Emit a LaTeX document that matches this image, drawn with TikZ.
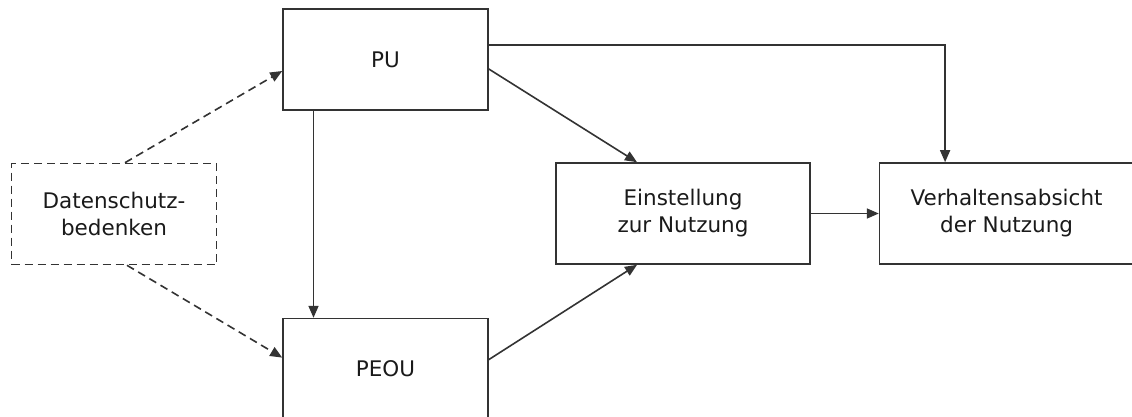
\documentclass[tikz,border=0pt]{standalone}
\usepackage{fontspec}
\setmainfont{DejaVu Sans}
\usetikzlibrary{positioning,arrows.meta}
\definecolor{linegray}{HTML}{333333}
\definecolor{textgray}{HTML}{1A1A1A}

\begin{document}
\begin{tikzpicture}[x=1pt,y=-1pt,>={Triangle[length=12pt,width=10pt]},
    box/.style={draw=linegray,line width=1.6pt,rectangle,align=center,text=textgray,minimum width=205pt,minimum height=101pt,inner sep=0pt,font=\fontsize{21.5}{27}\selectfont},
    wide box/.style={box,minimum width=254pt},
    dashed box/.style={box,dash pattern=on 8pt off 5pt},
    conn/.style={draw=linegray,line width=1.6pt,->},
    dashed conn/.style={conn,dash pattern=on 8pt off 5pt}]
            \useasboundingbox (0,0) rectangle (1132,416);

            \node[box] (pu) at (385.5,59.5) {PU};

            \node[box] (peou) [below=207pt of pu] {PEOU};

            \node[dashed box] (daten) at (114,214) {Datenschutz-\\bedenken};

            \node[wide box] (einst) at (683,213.5) {Einstellung\\zur Nutzung};
            \node[wide box] (verh) [right=68pt of einst] {Verhaltensabsicht\\der Nutzung};

            \draw[dashed conn] ([xshift=11pt]daten.north) -- ([yshift=-11.5pt]pu.west);
            \draw[dashed conn] ([xshift=13pt]daten.south) -- ([yshift=11.5pt]peou.west);
            \draw[conn] ([xshift=-72pt]pu.south) -- ([xshift=-72pt]peou.north);
            \draw[conn] ([yshift=-9.5pt]pu.east) -- ([xshift=-46pt]einst.north);
            \draw[conn] ([yshift=9.5pt]peou.east) -- ([xshift=-46pt]einst.south);
            \draw[conn] ([yshift=14.5pt]pu.east) -| ([xshift=-61.5pt]verh.north);
            \draw[conn] (einst) -- (verh);
        \end{tikzpicture}
\end{document}
